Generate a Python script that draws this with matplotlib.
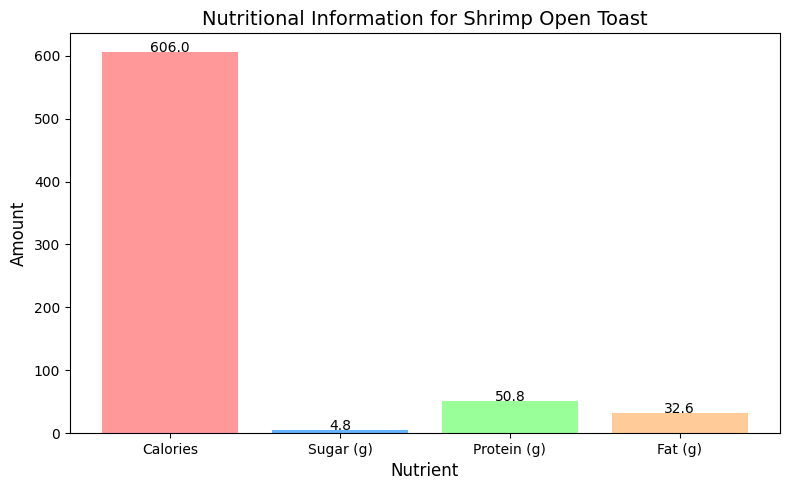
import matplotlib
matplotlib.use("Agg")
import matplotlib.pyplot as plt

nutrients = ["Calories", "Sugar (g)", "Protein (g)", "Fat (g)"]
amounts = [606.0, 4.8, 50.8, 32.6]
colors = ["#ff9999", "#66b3ff", "#99ff99", "#ffcc99"]

plt.figure(figsize=(7.9, 4.9), dpi=100)
bars = plt.bar(nutrients, amounts, color=colors)
plt.title("Nutritional Information for Shrimp Open Toast", fontsize=14)
plt.xlabel("Nutrient", fontsize=12)
plt.ylabel("Amount", fontsize=12)

# value labels sitting on the bar tops
for bar in bars:
    height = bar.get_height()
    plt.text(bar.get_x() + bar.get_width() / 2.0, height, f"{height}", ha="center")

plt.subplots_adjust(left=70 / 790, right=780 / 790, top=1 - 33 / 490, bottom=1 - 433 / 490)
plt.savefig("out.png")
plt.close()
